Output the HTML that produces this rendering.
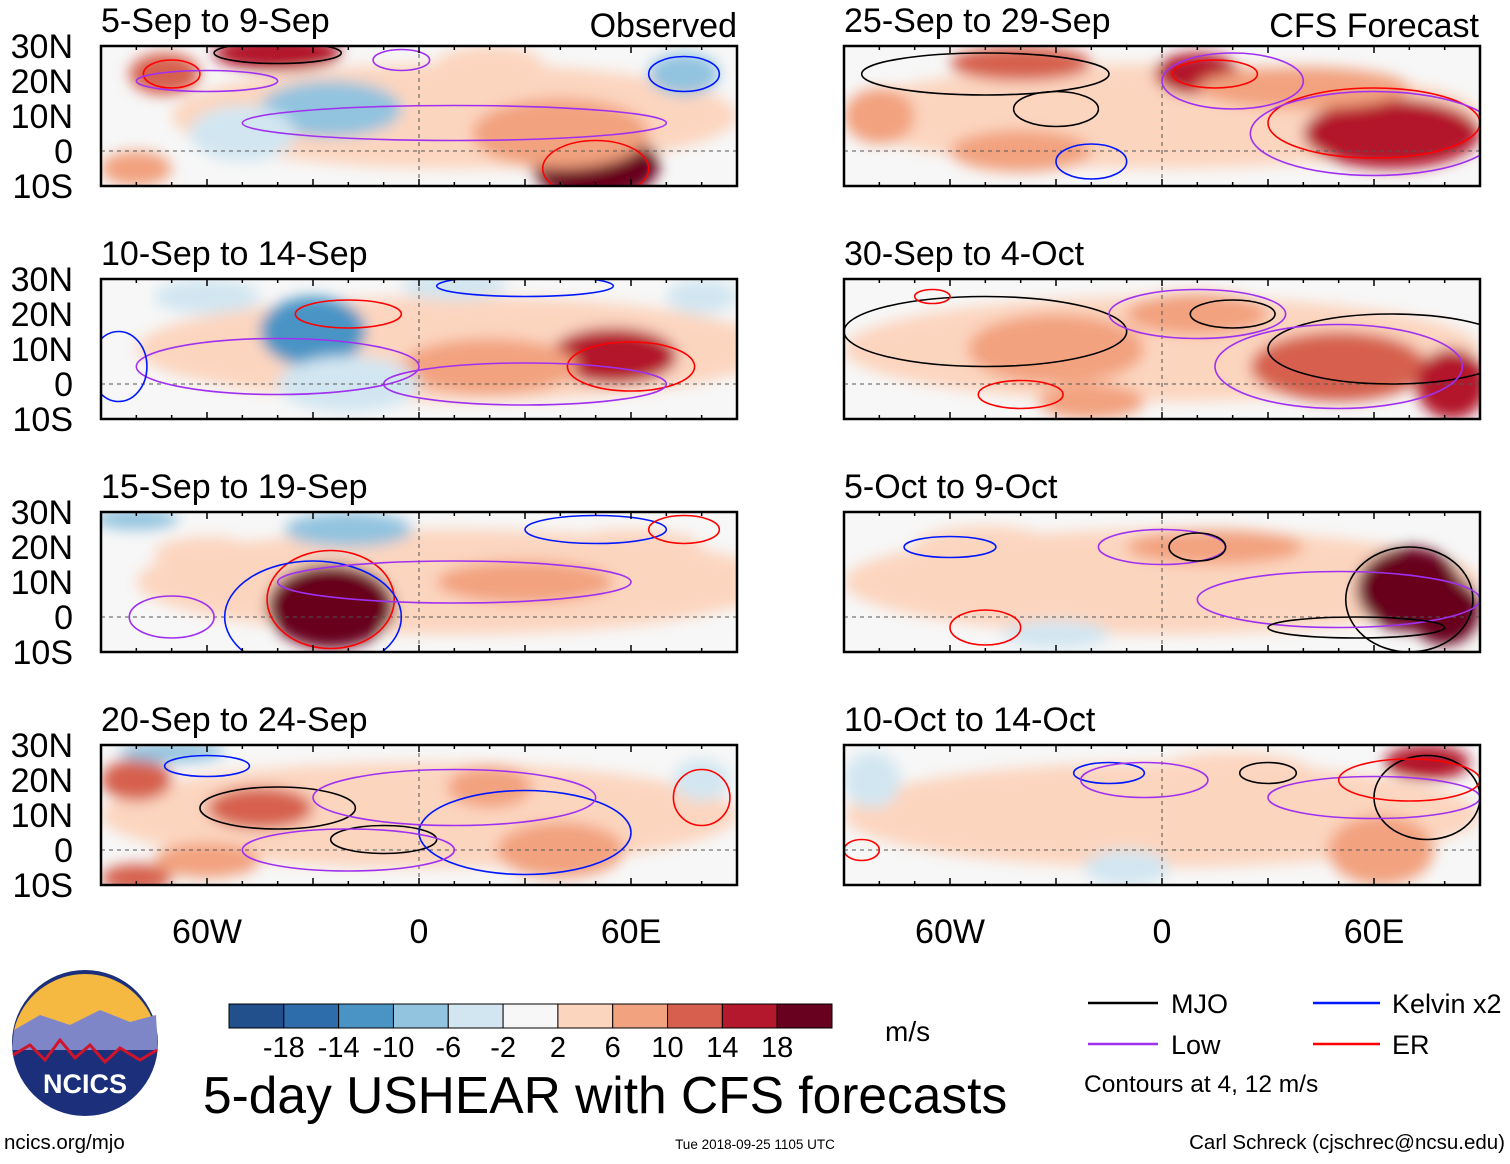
<!DOCTYPE html>
<html><head><meta charset="utf-8">
<style>
body{margin:0;background:#fff;width:1510px;height:1159px;overflow:hidden;font-family:"Liberation Sans",sans-serif;}
svg text{font-family:"Liberation Sans",sans-serif;}
</style></head>
<body>
<svg id="root" width="1510" height="1159" viewBox="0 0 1510 1159">
<defs>
<filter id="blur" x="-20%" y="-20%" width="140%" height="140%"><feGaussianBlur stdDeviation="7"/></filter>
</defs>
<g id="panels"></g>
<g id="bottom">
  <g>
    <circle cx="85" cy="1043" r="73" fill="#1b2f7a"/>
    <path d="M14,1030 A73,73 0 0 1 156,1030 Z" fill="#f5b942"/>
    <path d="M14,1030 L40,1015 L70,1025 L100,1010 L130,1022 L156,1015 L158,1050 L12,1050 Z" fill="#7f86c8"/>
    <path d="M13,1055 L30,1045 L45,1060 L60,1040 L75,1058 L90,1045 L105,1062 L120,1048 L140,1060 L157,1050" stroke="#d0142a" stroke-width="3" fill="none"/>
    <text x="85" y="1093" font-size="27" font-weight="bold" fill="#fff" text-anchor="middle">NCICS</text>
  </g>
  <text x="4" y="1149" font-size="20.5">ncics.org/mjo</text>
  <g id="cbar"></g>
  <text x="885" y="1041" font-size="28">m/s</text>
  <text x="203" y="1113" font-size="51.5">5-day USHEAR with CFS forecasts</text>
  <text x="755" y="1149" font-size="13.5" text-anchor="middle">Tue 2018-09-25 1105 UTC</text>
  <text x="1505" y="1149" font-size="20.5" text-anchor="end">Carl Schreck (cjschrec@ncsu.edu)</text>
  <g>
    <line x1="1088" y1="1003" x2="1158" y2="1003" stroke="#000" stroke-width="2.5"/>
    <text x="1171" y="1013" font-size="27">MJO</text>
    <line x1="1313" y1="1003" x2="1380" y2="1003" stroke="#0018ff" stroke-width="2.5"/>
    <text x="1392" y="1013" font-size="27">Kelvin x2</text>
    <line x1="1088" y1="1044" x2="1158" y2="1044" stroke="#a030f0" stroke-width="2.5"/>
    <text x="1171" y="1054" font-size="27">Low</text>
    <line x1="1313" y1="1044" x2="1380" y2="1044" stroke="#ff0000" stroke-width="2.5"/>
    <text x="1392" y="1054" font-size="27">ER</text>
    <text x="1084" y="1092" font-size="24.5">Contours at 4, 12 m/s</text>
  </g>
</g>
</svg>
<script>
const cbLevels=["-18","-14","-10","-6","-2","2","6","10","14","18"];
const cbColors=["#22508d","#2e6dac","#4a94c5","#92c3df","#d2e6f1","#f7f7f7","#fcd5bf","#f2a27f","#d6604d","#b3182c","#68001f"];
const panelTitles=["5-Sep to 9-Sep","10-Sep to 14-Sep","15-Sep to 19-Sep","20-Sep to 24-Sep","25-Sep to 29-Sep","30-Sep to 4-Oct","5-Oct to 9-Oct","10-Oct to 14-Oct"];
const latTicks=["30N","20N","10N","0","10S"];
const lonTicks=["60W","0","60E"];
const lonTickVals=[-60,0,60];
// blobs: [lon, lat, rxDeg, ryDeg, shear m/s]
const blobs=[
 [[10,10,80,15,3],[-40,28,18,5,16],[-72,22,10,6,10],[-25,12,20,8,-10],[-50,5,15,8,-4],[50,-4,18,10,18],[40,5,25,10,8],[75,22,10,6,-8],[20,25,15,5,4],[-80,-5,10,5,6]],
 [[10,10,90,15,3],[-30,15,15,10,-14],[-60,25,15,5,-6],[55,8,18,8,14],[20,5,25,8,6],[10,28,15,4,-6],[80,25,10,5,-6],[-20,0,20,8,-3],[-85,0,8,10,-2]],
 [[10,10,90,15,3],[-25,3,18,12,18],[-20,25,18,5,-10],[-80,28,12,3,-8],[30,10,25,6,6],[-60,18,15,5,4],[60,20,20,5,4]],
 [[0,10,90,15,3],[-80,20,10,6,10],[-45,12,15,6,10],[20,18,12,6,8],[-70,28,15,3,-10],[40,0,18,8,6],[-80,-8,10,4,12],[-60,-3,15,5,8],[80,20,8,6,-6]],
 [[0,10,90,15,5],[-40,25,20,5,10],[10,22,12,6,14],[65,5,25,10,14],[-80,10,10,8,8],[-40,0,20,6,6],[40,18,30,6,6]],
 [[0,10,90,15,4],[-30,10,25,10,8],[50,5,25,10,12],[82,0,10,10,16],[-20,-5,15,5,8],[10,20,20,6,6]],
 [[0,10,90,15,3],[70,8,15,12,18],[80,2,10,10,18],[15,20,25,5,6],[-50,20,20,6,4],[-30,-5,15,4,-3]],
 [[0,10,90,15,2],[75,25,12,5,14],[62,0,15,10,8],[-82,20,8,8,-6],[-10,-5,12,5,-4],[20,20,25,8,5]]
];
// contours: [lon, lat, rxDeg, ryDeg, type]
const contours=[
 [[-40,28,18,3,"mjo"],[-70,22,8,4,"er"],[50,-5,15,8,"er"],[10,8,60,5,"low"],[-60,20,20,3,"low"],[75,22,10,5,"kelvin"],[-5,26,8,3,"low"]],
 [[-20,20,15,4,"er"],[60,5,18,7,"er"],[30,28,25,3,"kelvin"],[-40,5,40,8,"low"],[30,0,40,6,"low"],[-85,5,8,10,"kelvin"]],
 [[-25,5,18,14,"er"],[-30,0,25,16,"kelvin"],[50,25,20,4,"kelvin"],[10,10,50,6,"low"],[75,25,10,4,"er"],[-70,0,12,6,"low"]],
 [[-40,12,22,6,"mjo"],[-10,3,15,4,"mjo"],[-60,24,12,3,"kelvin"],[30,5,30,12,"kelvin"],[10,15,40,8,"low"],[-20,0,30,6,"low"],[80,15,8,8,"er"]],
 [[-50,22,35,6,"mjo"],[-30,12,12,5,"mjo"],[15,22,12,4,"er"],[20,20,20,8,"low"],[-20,-3,10,5,"kelvin"],[60,8,30,10,"er"],[60,5,35,12,"low"]],
 [[-50,15,40,10,"mjo"],[-40,-3,12,4,"er"],[20,20,12,4,"mjo"],[65,10,35,10,"mjo"],[50,5,35,12,"low"],[10,20,25,7,"low"],[-65,25,5,2,"er"]],
 [[-60,20,13,3,"kelvin"],[0,20,18,5,"low"],[10,20,8,4,"mjo"],[70,5,18,15,"mjo"],[50,5,40,8,"low"],[-50,-3,10,5,"er"],[55,-3,25,3,"mjo"]],
 [[-15,22,10,3,"kelvin"],[-5,20,18,5,"low"],[30,22,8,3,"mjo"],[75,15,15,12,"mjo"],[60,15,30,6,"low"],[-85,0,5,3,"er"],[70,20,20,6,"er"]]
];
const strokeCol={mjo:"#000",kelvin:"#0018ff",low:"#a030f0",er:"#ff0000"};
const NS="http://www.w3.org/2000/svg";
function mk(tag,attrs,parent){const e=document.createElementNS(NS,tag);for(const k in attrs)e.setAttribute(k,attrs[k]);parent.appendChild(e);return e;}
function colorFor(v){let i=0;while(i<cbLevels.length&&v>=parseFloat(cbLevels[i]))i++;return cbColors[i];}
const panelsG=document.getElementById('panels');
const colX=[101,844],rowY=[46,279,512,745],PW=636,PH=140;
for(let p=0;p<8;p++){
  const c=p<4?0:1,r=p%4,x0=colX[c],y0=rowY[r];
  const xs=lon=>x0+(lon+90)/180*PW, ys=lat=>y0+(30-lat)/40*PH;
  const g=mk('g',{},panelsG);
  
  
  const cp=mk('clipPath',{id:'cp'+p},g);
  mk('rect',{x:x0,y:y0,width:PW,height:PH},cp);
  mk('rect',{x:x0,y:y0,width:PW,height:PH,fill:"#f7f7f7"},g);
  const bg=mk('g',{'clip-path':'url(#cp'+p+')'},g);
  const bf=mk('g',{filter:'url(#blur)'},bg);
  blobs[p].forEach(b=>{
    const e=mk('ellipse',{cx:xs(b[0]),cy:ys(b[1]),rx:b[2]/180*PW,ry:b[3]/40*PH,fill:colorFor(b[4])},bf);
    
    
  });
  mk('line',{x1:x0,y1:ys(0),x2:x0+PW,y2:ys(0),stroke:"#555","stroke-dasharray":"4,4","stroke-width":1},bg);
  mk('line',{x1:xs(0),y1:y0,x2:xs(0),y2:y0+PH,stroke:"#555","stroke-dasharray":"4,4","stroke-width":1},bg);
  contours[p].forEach(k=>{
    const e=mk('ellipse',{cx:xs(k[0]),cy:ys(k[1]),rx:k[2]/180*PW,ry:k[3]/40*PH,fill:"none",stroke:strokeCol[k[4]],"stroke-width":1.6},bg);
    
    
  });
  mk('rect',{x:x0,y:y0,width:PW,height:PH,fill:"none",stroke:"#000","stroke-width":2.5},g);
  for(let lon=-90;lon<=90;lon+=10){const h=lon%30===0?7:4;
    mk('line',{x1:xs(lon),y1:y0,x2:xs(lon),y2:y0+h,stroke:"#000","stroke-width":1.5},g);
    mk('line',{x1:xs(lon),y1:y0+PH,x2:xs(lon),y2:y0+PH-h,stroke:"#000","stroke-width":1.5},g);}
  const t=mk('text',{x:x0,y:y0-14,"font-size":34},g);t.textContent=panelTitles[p];
  
  
  if(c===0){latTicks.forEach((s,i)=>{const tt=mk('text',{x:73,y:y0+i*35+12,"font-size":34,"text-anchor":"end"},g);tt.textContent=s;
    
    });}
  if(r===3){lonTicks.forEach((s,i)=>{const tt=mk('text',{x:xs(lonTickVals[i]),y:943,"font-size":34,"text-anchor":"middle"},g);tt.textContent=s;
    
    });}
}
const ho=mk('text',{x:737,y:37,"font-size":34,"text-anchor":"end"},panelsG);ho.textContent="Observed";


const hf=mk('text',{x:1479,y:37,"font-size":34,"text-anchor":"end"},panelsG);hf.textContent="CFS Forecast";


const cb=document.getElementById('cbar');const bw=603/cbColors.length;
cbColors.forEach((col,i)=>{const r=mk('rect',{x:229+i*bw,y:1004,width:bw,height:24,fill:col,stroke:"#000","stroke-width":1},cb);
  
  });
cbLevels.forEach((s,i)=>{const t=mk('text',{x:229+(i+1)*bw,y:1057,"font-size":29,"text-anchor":"middle"},cb);t.textContent=s;
  
  });
</script>
</body></html>
